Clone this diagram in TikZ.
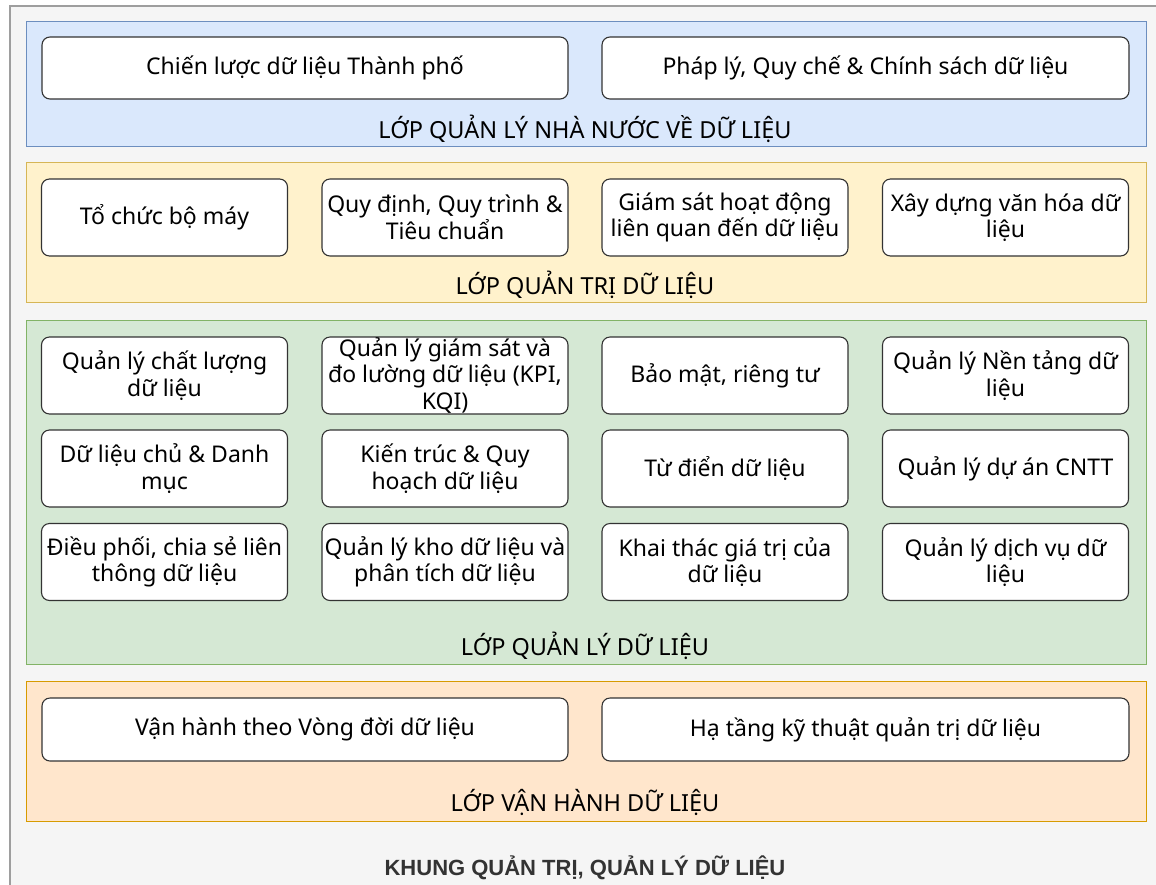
\documentclass[tikz,border=0pt]{standalone}
\usepackage{fontspec}
\setmainfont{Noto Sans}
\newfontfamily\titlefont{Liberation Sans}
\definecolor{framebg}{HTML}{F5F5F5}
\definecolor{frameln}{HTML}{9E9E9E}
\definecolor{bluef}{HTML}{DAE8FC}\definecolor{bluel}{HTML}{6C8EBF}
\definecolor{yelf}{HTML}{FFF2CC}\definecolor{yell}{HTML}{D6B656}
\definecolor{grnf}{HTML}{D5E8D4}\definecolor{grnl}{HTML}{82B366}
\definecolor{orgf}{HTML}{FFE6CC}\definecolor{orgl}{HTML}{D79B00}
\definecolor{titlec}{HTML}{333333}
\tikzset{
  layer/.style={draw=#1l, fill=#1f, line width=1.2pt, inner sep=0pt, anchor=north west},
  box/.style={draw=black!80, fill=white, line width=1.1pt, rounded corners=8pt, inner sep=0pt, align=center,
     font=\fontsize{23}{26.5}\selectfont},
  lab/.style={font=\fontsize{23.5}{26}\selectfont, inner sep=0pt},
}
\begin{document}
\begin{tikzpicture}[x=1pt,y=-1pt]
\useasboundingbox (0,0) rectangle (1156,884);
\begin{scope}
\clip (0,0) rectangle (1156,884);
\node[draw=frameln, fill=framebg, line width=1.5pt, minimum width=1180pt, minimum height=920pt, anchor=north west, inner sep=0pt] (frame) at (9,5) {};
\end{scope}
% layers
\node[layer=blue, minimum width=1120pt, minimum height=125pt] (L1) at (26,21) {};
\node[layer=yel, minimum width=1120pt, minimum height=140pt] (L2) at (26,162) {};
\node[layer=grn, minimum width=1120pt, minimum height=344pt] (L3) at (26,320) {};
\node[layer=org, minimum width=1120pt, minimum height=140pt] (L4) at (26,681) {};
% blue
\node[box, minimum width=526pt, minimum height=62pt] (b11) at (305,68) {Chiến lược dữ liệu Thành phố};
\node[box, minimum width=527pt, minimum height=62pt] (b12) at (865.5,68) {Pháp lý, Quy chế \& Chính sách dữ liệu};
\node[lab] (t1) at (585,129) {LỚP QUẢN LÝ NHÀ NƯỚC VỀ DỮ LIỆU};
% yellow
\node[box, minimum width=246pt, minimum height=77pt] (b21) at (164.5,217.5) {Tổ chức bộ máy};
\node[box, minimum width=246pt, minimum height=77pt] (b22) at (445,217.5) {Quy định, Quy trình \&\\Tiêu chuẩn};
\node[box, minimum width=246pt, minimum height=77pt] (b23) at (725,217.5) {Giám sát hoạt động\\liên quan đến dữ liệu};
\node[box, minimum width=246pt, minimum height=77pt] (b24) at (1005.5,217.5) {Xây dựng văn hóa dữ\\liệu};
\node[lab] (t2) at (585,285) {LỚP QUẢN TRỊ DỮ LIỆU};
% green
\node[box, minimum width=246pt, minimum height=77pt] (g11) at (164.5,375.5) {Quản lý chất lượng\\dữ liệu};
\node[box, minimum width=246pt, minimum height=77pt] (g12) at (445,375.5) {Quản lý giám sát và\\đo lường dữ liệu (KPI,\\KQI)};
\node[box, minimum width=246pt, minimum height=77pt] (g13) at (725,375.5) {Bảo mật, riêng tư};
\node[box, minimum width=246pt, minimum height=77pt] (g14) at (1005.5,375.5) {Quản lý Nền tảng dữ\\liệu};
\node[box, minimum width=246pt, minimum height=77pt] (g21) at (164.5,468.5) {Dữ liệu chủ \& Danh\\mục};
\node[box, minimum width=246pt, minimum height=77pt] (g22) at (445,468.5) {Kiến trúc \& Quy\\hoạch dữ liệu};
\node[box, minimum width=246pt, minimum height=77pt] (g23) at (725,468.5) {Từ điển dữ liệu};
\node[box, minimum width=246pt, minimum height=77pt] (g24) at (1005.5,468.5) {Quản lý dự án CNTT};
\node[box, minimum width=246pt, minimum height=77pt] (g31) at (164.5,562) {Điều phối, chia sẻ liên\\thông dữ liệu};
\node[box, minimum width=246pt, minimum height=77pt] (g32) at (445,562) {Quản lý kho dữ liệu và\\phân tích dữ liệu};
\node[box, minimum width=246pt, minimum height=77pt] (g33) at (725,562) {Khai thác giá trị của\\dữ liệu};
\node[box, minimum width=246pt, minimum height=77pt] (g34) at (1005.5,562) {Quản lý dịch vụ dữ\\liệu};
\node[lab] (t3) at (585,646) {LỚP QUẢN LÝ DỮ LIỆU};
% orange
\node[box, minimum width=526pt, minimum height=63pt] (o1) at (305,729.5) {Vận hành theo Vòng đời dữ liệu};
\node[box, minimum width=527pt, minimum height=63pt] (o2) at (865.5,729.5) {Hạ tầng kỹ thuật quản trị dữ liệu};
\node[lab] (t4) at (585,802) {LỚP VẬN HÀNH DỮ LIỆU};
% title
\node[lab, font=\titlefont\fontsize{22}{24}\selectfont\bfseries, text=titlec] (title) at (585,868) {KHUNG QUẢN TRỊ, QUẢN LÝ DỮ LIỆU};
\end{tikzpicture}
\end{document}
